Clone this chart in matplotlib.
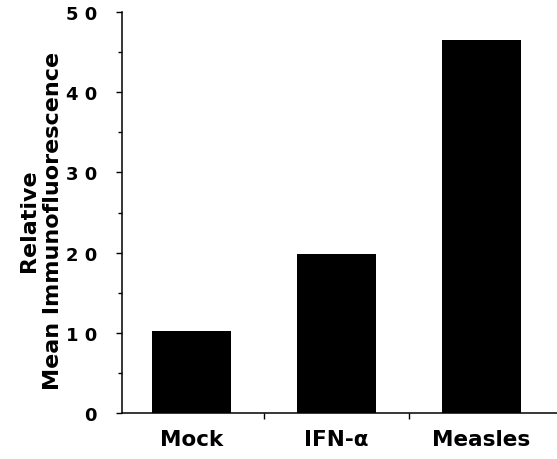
import matplotlib.pyplot as plt
from matplotlib.ticker import FixedLocator, FuncFormatter

# Values
groups = ['Mock', 'IFN-α', 'Measles']
fluorescence = [10.2, 19.8, 46.5]
y_major = [0, 10, 20, 30, 40, 50]
y_minor = [5, 15, 25, 35, 45]

plt.rcParams['font.family'] = ['DejaVu Sans']
plt.rcParams['font.weight'] = 'bold'

fig = plt.figure(figsize=(5.57, 4.60), dpi=100)
ax = fig.add_axes([122 / 557, 46 / 460, 435 / 557, 401 / 460])

x = list(range(len(groups)))
ax.bar(x, fluorescence, width=0.54, color='black', align='center')

# Axis limits and spines
ax.set_xlim(-0.48, 2.52)
ax.set_ylim(0, 50)
ax.spines['top'].set_visible(False)
ax.spines['right'].set_visible(False)
ax.spines['left'].set_linewidth(1.1)
ax.spines['bottom'].set_linewidth(1.1)

# Y ticks: spaced digits as in the original print
ax.yaxis.set_major_locator(FixedLocator(y_major))
ax.yaxis.set_minor_locator(FixedLocator(y_minor))
ax.yaxis.set_major_formatter(FuncFormatter(lambda v, p: ' '.join(str(int(v)))))
ax.tick_params(axis='y', which='major', direction='out', length=4, width=1,
               pad=14, labelsize=13)
ax.tick_params(axis='y', which='minor', direction='out', length=3, width=1)

# X ticks: separators between groups, labels under the bars
ax.set_xticks([0.5, 1.5])
ax.set_xticklabels(['', ''])
ax.tick_params(axis='x', which='major', direction='out', length=4, width=1)
for xi, name in zip(x, groups):
    ax.text(xi, -0.065, name, transform=ax.get_xaxis_transform(),
            ha='center', va='center', fontsize=15.5, fontweight='bold')

fig.text(41 / 557, 1 - 221 / 460, 'Relative\nMean Immunofluorescence',
         rotation=90, ha='center', va='center', fontsize=16,
         fontweight='bold', multialignment='center', linespacing=1.2)

fig.savefig('out.png', dpi=100)
